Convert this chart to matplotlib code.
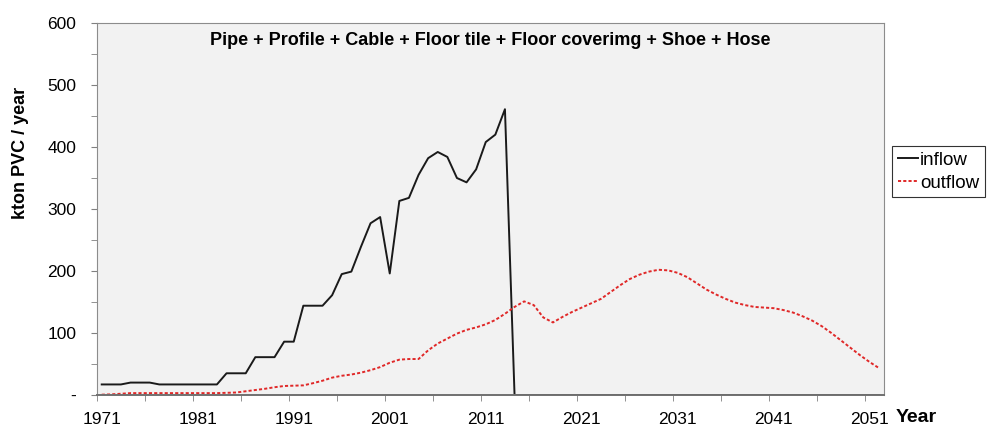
import matplotlib

matplotlib.use("Agg")
import matplotlib.pyplot as plt
import numpy as np
from matplotlib.ticker import FixedLocator, FuncFormatter

plt.rcParams["font.family"] = ["Liberation Sans", "DejaVu Sans"]

YEARS = list(range(1971, 2053))

INFLOW = [
    17, 17, 17, 20, 20, 20, 17, 17, 17, 17,      # 1971-1980
    17, 17, 17, 35, 35, 35, 61, 61, 61, 86,      # 1981-1990
    86, 144, 144, 144, 161, 195, 199, 239, 277, 287,  # 1991-2000
    196, 313, 318, 355, 382, 392, 384, 350, 343, 364,  # 2001-2010
    408, 420, 461, 0, 0, 0, 0, 0, 0, 0,          # 2011-2020
    0, 0, 0, 0, 0, 0, 0, 0, 0, 0,                # 2021-2030
    0, 0, 0, 0, 0, 0, 0, 0, 0, 0,                # 2031-2040
    0, 0, 0, 0, 0, 0, 0, 0, 0, 0,                # 2041-2050
    0, 0,                                        # 2051-2052
]

OUTFLOW = [
    0.5, 1, 2, 3, 3, 3, 3, 3, 3, 3,              # 1971-1980
    3, 3, 3, 3.5, 4, 6, 8, 10, 12.5, 14.5,       # 1981-1990
    15, 15.5, 19, 23, 28, 31, 33, 36, 40, 45,    # 1991-2000
    52, 57, 58, 58, 72, 83, 91, 99, 105, 109,    # 2001-2010
    114, 121, 131, 142, 151, 145, 125, 117, 126, 134,  # 2011-2020
    141, 148, 155, 166, 177, 187, 194, 199, 202, 201,  # 2021-2030
    197, 190, 180, 170, 162, 155, 149, 145, 142, 141,  # 2031-2040
    140, 137, 133, 127, 120, 111, 100, 88, 76, 64,     # 2041-2050
    53, 43,                                      # 2051-2052
]

X_LABELS = [1971, 1981, 1991, 2001, 2011, 2021, 2031, 2041, 2051]
TITLE = "Pipe + Profile + Cable + Floor tile + Floor coverimg + Shoe + Hose"


def main() -> None:
    fig = plt.figure(figsize=(9.89, 4.29), dpi=100)
    ax = fig.add_axes([0.098, 0.0793, 0.796, 0.867])
    ax.set_facecolor("#f2f2f2")

    ax.plot(YEARS, INFLOW, color="#1a1a1a", linewidth=1.4, label="inflow")
    ax.plot(YEARS, OUTFLOW, color="#e02828", linewidth=1.4,
            linestyle=(0, (1.6, 1.1)), label="outflow")

    ax.set_xlim(1970.5, 2052.5)
    ax.set_ylim(0, 600)

    # category-style axis: tick marks between years, labels on years
    ax.xaxis.set_minor_locator(FixedLocator(np.arange(1970.5, 2053, 5)))
    ax.set_xticks(X_LABELS)
    ax.set_xticklabels([str(y) for y in X_LABELS], fontsize=12.5)
    ax.tick_params(axis="x", which="major", length=0, pad=12)
    ax.tick_params(axis="x", which="minor", length=4.3, color="#808080")

    ax.set_yticks(np.arange(0, 601, 100))
    ax.yaxis.set_major_formatter(FuncFormatter(lambda v, _: "-" if v == 0 else f"{v:.0f}"))
    ax.yaxis.set_minor_locator(FixedLocator(np.arange(50, 600, 100)))
    ax.tick_params(axis="y", which="both", length=4.3, color="#808080", labelsize=12.5, pad=10.5)

    for side in ("left", "top", "right"):
        ax.spines[side].set_color("#8c8c8c")
    ax.spines["bottom"].set_color("#707070")
    ax.spines["bottom"].set_linewidth(1.4)

    ax.set_ylabel("kton PVC / year", fontsize=13, fontweight="bold")
    ax.yaxis.set_label_coords(-0.086, 0.65)
    ax.text(0.5, 0.954, TITLE, transform=ax.transAxes, ha="center", va="center",
            fontsize=13, fontweight="bold")
    fig.text(0.906, 0.006, "Year", fontsize=14, fontweight="bold", ha="left", va="bottom")

    leg = ax.legend(loc="center left", bbox_to_anchor=(1.01, 0.60), frameon=True,
                    fontsize=13.5, handlelength=1.1, handletextpad=0.1,
                    borderpad=0.3, labelspacing=0.3, borderaxespad=0.0,
                    fancybox=False)
    leg.get_frame().set_edgecolor("black")
    leg.get_frame().set_linewidth(0.8)

    fig.savefig("out.png", dpi=100)


if __name__ == "__main__":
    main()
